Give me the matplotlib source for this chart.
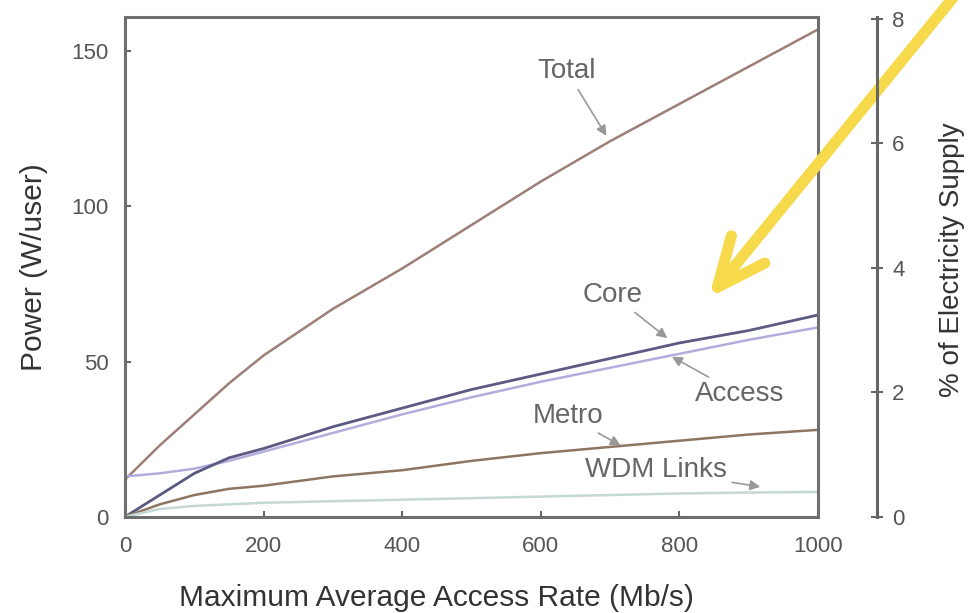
import numpy as np
import matplotlib.pyplot as plt

plt.rcParams['font.family'] = ['Liberation Sans', 'DejaVu Sans']

rate = [0, 50, 100, 150, 200, 300, 400, 500, 600, 700, 800, 900, 1000]
total = [12, 23, 33, 43, 52, 67, 80, 94, 108, 121, 133, 145, 157]
core = [0, 7, 14, 19, 22, 29, 35, 41, 46, 51, 56, 60, 65]
access = [13, 14, 15.5, 18, 21, 27, 33, 38.5, 43.5, 48, 52.5, 57, 61]
metro = [0, 4, 7, 9, 10, 13, 15, 18, 20.5, 22.5, 24.5, 26.5, 28]
wdm = [0, 2.5, 3.5, 4, 4.5, 5, 5.5, 6, 6.5, 7, 7.5, 7.8, 8]

xticks = [0, 200, 400, 600, 800, 1000]
yticks = [0, 50, 100, 150]
pct_ticks = [0, 2, 4, 6, 8]

fig = plt.figure(figsize=(9.7, 6.13), dpi=100)
ax = fig.add_axes([0.129, 0.157, 0.714, 0.815])

ax.plot(rate, total, color='#9e7f78', lw=1.8)
ax.plot(rate, access, color='#b4acdc', lw=1.8)
ax.plot(rate, core, color='#5b5a82', lw=2.0)
ax.plot(rate, metro, color='#8c7662', lw=1.8)
ax.plot(rate, wdm, color='#c4d8d4', lw=1.8)

ax.set_xlim(0, 1000)
ax.set_ylim(0, 161)
ax.set_xticks(xticks)
ax.set_yticks(yticks)
ax.tick_params(direction='in', labelsize=16, colors='#666666', labelcolor='#555555', length=4, width=1.5)
ax.tick_params(axis='x', pad=14)
ax.tick_params(axis='y', pad=12)
for s in ax.spines.values():
    s.set_color('#6e6e6e')
    s.set_linewidth(2.2)

ax.set_xlabel('Maximum Average Access Rate (Mb/s)', fontsize=21.5, color='#333333', va='center')
ax.xaxis.set_label_coords(0.449, -0.162)
ax.set_ylabel('Power (W/user)', fontsize=21.5, color='#333333', va='center')
ax.yaxis.set_label_coords(-0.131, 0.5)

ax2 = ax.twinx()
ax2.set_ylim(0, 8.03)
ax2.set_yticks(pct_ticks)
ax2.spines['right'].set_position(('outward', 43))
for name, s in ax2.spines.items():
    s.set_visible(name == 'right')
ax2.spines['right'].set_color('#666666')
ax2.spines['right'].set_linewidth(2.2)
ax2.tick_params(direction='inout', labelsize=16, colors='#666666', labelcolor='#555555', length=9, width=1.5, pad=6)
ax2.set_ylabel('% of Electricity Supply', fontsize=20, color='#333333', va='center')
ax2.yaxis.set_label_coords(1.194, 0.514)

lead = dict(arrowstyle='-|>,head_length=0.3,head_width=0.15', color='#999999', lw=1.2)
labels = [('Total', (697, 122), (638, 143.5)),
          ('Core', (786, 57), (704, 71.5)),
          ('Access', (786, 52), (887, 39.5)),
          ('Metro', (719, 22.5), (639, 32.5)),
          ('WDM Links', (921, 9.5), (766, 15))]
for txt, tip, pos in labels:
    ax.annotate(txt, xy=tip, xytext=pos, fontsize=20, color='#666666',
                ha='center', va='center', arrowprops=lead)

# yellow pointer drawn on top of the figure
ax.annotate('', xy=(707, 313), xytext=(965, 630), xycoords='figure pixels',
            textcoords='figure pixels', annotation_clip=False,
            arrowprops=dict(arrowstyle='->,head_length=1.4,head_width=0.62',
                            color='#f7d94c', lw=8, mutation_scale=25,
                            capstyle='round', joinstyle='round'))

fig.savefig('out.png', dpi=100)
